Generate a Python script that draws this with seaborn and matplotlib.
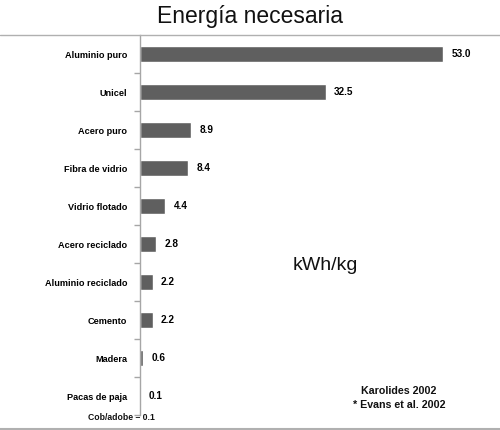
import matplotlib
matplotlib.use("Agg")
import matplotlib.pyplot as plt
from matplotlib.lines import Line2D
from matplotlib.ticker import FixedLocator
import seaborn as sns
import pandas as pd

categories = ["Aluminio puro", "Unicel", "Acero puro", "Fibra de vidrio",
              "Vidrio flotado", "Acero reciclado", "Aluminio reciclado",
              "Cemento", "Madera", "Pacas de paja"]
values = [53.0, 32.5, 8.9, 8.4, 4.4, 2.8, 2.2, 2.2, 0.6, 0.1]
title = "Energía necesaria"
unit = "kWh/kg"
extra_note = "Cob/adobe – 0.1"
sources = ["Karolides 2002", "* Evans et al. 2002"]

df = pd.DataFrame({"material": categories, "kwh": values})

sns.set_theme(style="white")
plt.rcParams["font.family"] = ["Liberation Sans", "DejaVu Sans"]

fig = plt.figure(figsize=(5, 4.3), dpi=100)
ax = fig.add_axes([0.28, 1 - 415 / 430, 0.68, 380 / 430])

sns.barplot(data=df, x="kwh", y="material", orient="h", color="#5f5f5f",
            saturation=1, width=0.4, ax=ax)

ax.set_xlim(0, (480 - 140) / (303 / 53.0))
ax.set_xlabel("")
ax.set_ylabel("")
ax.set_xticks([])
for s in ["top", "right", "bottom"]:
    ax.spines[s].set_visible(False)
ax.spines["left"].set_color("#a6a6a6")
ax.spines["left"].set_linewidth(1.0)

ax.tick_params(axis="y", which="major", length=0, pad=9)
ax.yaxis.set_minor_locator(FixedLocator([i + 0.5 for i in range(len(categories))]))
ax.tick_params(axis="y", which="minor", length=4, color="#a6a6a6", width=1, left=True)
for lab in ax.get_yticklabels():
    lab.set_fontweight("bold")
    lab.set_fontsize(6.6)
    lab.set_color("#000000")

for c in ax.containers:
    ax.bar_label(c, labels=[f"{v:.1f}" for v in values], padding=6,
                 fontsize=7.2, fontweight="bold", color="#000000")

fig.text(0.5, 1 - 16 / 430, title, ha="center", va="center", fontsize=16.5,
         color="#111111")
fig.text(325 / 500, 1 - 265 / 430, unit, ha="center", va="center", fontsize=14,
         color="#111111")
fig.text(399 / 500, 1 - 391 / 430, sources[0], ha="center", va="center",
         fontsize=7.7, fontweight="bold", color="#111111")
fig.text(399 / 500, 1 - 405 / 430, sources[1], ha="center", va="center",
         fontsize=7.7, fontweight="bold", color="#111111")
fig.text(121 / 500, 1 - 417 / 430, extra_note, ha="center", va="center",
         fontsize=6.2, fontweight="bold", color="#111111")

fig.add_artist(Line2D([0, 1], [1 - 35 / 430, 1 - 35 / 430], transform=fig.transFigure,
                      color="#b0b0b0", linewidth=1))
fig.add_artist(Line2D([0, 1], [1 - 429 / 430, 1 - 429 / 430], transform=fig.transFigure,
                      color="#b0b0b0", linewidth=1.5))

fig.savefig("out.png", dpi=100)
